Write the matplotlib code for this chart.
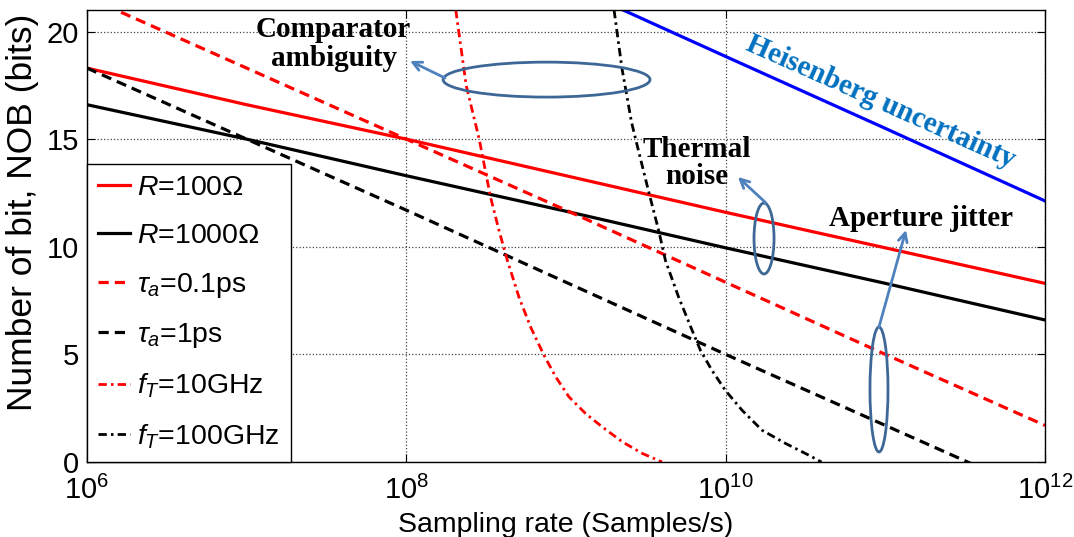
import numpy as np
import matplotlib
matplotlib.use("Agg")
import matplotlib.pyplot as plt
from matplotlib.patches import Ellipse

plt.rcParams['font.family'] = ['Liberation Sans', 'DejaVu Sans']
plt.rcParams['mathtext.fontset'] = 'custom'
plt.rcParams['mathtext.rm'] = 'Liberation Sans'
plt.rcParams['mathtext.it'] = 'Liberation Sans:italic'
plt.rcParams['mathtext.bf'] = 'Liberation Sans:bold'

# ---------------- data (sampling rate in Samples/s, NOB in bits) ----------------
decade_x = [1e6, 1e7, 1e8, 1e9, 1e10, 1e11, 1e12]
r100_y = [18.3, 16.6, 15.0, 13.3, 11.6, 9.95, 8.3]
r1000_y = [16.6, 15.0, 13.3, 11.65, 9.95, 8.3, 6.6]
tau01_y = [21.6, 18.3, 15.0, 11.7, 8.35, 5.0, 1.7]
tau1_y = [18.3, 15.0, 11.7, 8.35, 5.0, 1.7, -1.6]

ft10_x = [2.04e8, 2.37e8, 2.86e8, 3.37e8, 3.81e8, 4.30e8, 5.08e8, 6.01e8,
          7.29e8, 8.63e8, 1.045e9, 1.327e9, 1.687e9, 2.25e9, 3.0e9, 4.0e9]
ft10_y = [21.0, 17.5, 15.0, 12.3, 10.74, 9.35, 7.65, 6.26,
          4.95, 3.95, 3.02, 2.25, 1.63, 0.94, 0.40, 0.0]

ft100_x = [2.0e9, 2.24e9, 2.57e9, 2.75e9, 3.31e9, 3.81e9, 4.2e9, 5.08e9,
           6.17e9, 6.95e9, 8.2e9, 9.95e9, 1.265e10, 1.687e10, 2.36e10,
           3.31e10, 3.98e10]
ft100_y = [21.0, 18.3, 15.8, 14.9, 12.5, 10.74, 9.35, 7.65,
           6.11, 5.19, 4.26, 3.33, 2.41, 1.48, 0.87, 0.32, 0.0]

heis_x = [1e9, 1e10, 1e11, 1e12]
heis_y = [22.2, 18.84, 15.5, 12.13]

labels = [r'$\it{R}$=100Ω', r'$\it{R}$=1000Ω', r'$\tau_a$=0.1ps',
          r'$\tau_a$=1ps', r'$f_T$=10GHz', r'$f_T$=100GHz']

x_ticks = [1e6, 1e8, 1e10, 1e12]
y_ticks = [0, 5, 10, 15, 20]

# ---------------- figure ----------------
fig = plt.figure(figsize=(10.74, 5.37), dpi=100)
ax = fig.add_axes([87/1074, 75/537, 958/1074, 452/537])
ax.set_xscale('log')

lw = 2.3
dash = (3.2, 1.9)
dashdot = (3.0, 1.5, 0.9, 1.5)
h1, = ax.plot(decade_x, r100_y, color='#ff0000', lw=lw, label=labels[0])
h2, = ax.plot(decade_x, r1000_y, color='black', lw=lw, label=labels[1])
h3, = ax.plot(decade_x, tau01_y, color='#ff0000', lw=lw, ls=(0, dash), label=labels[2])
h4, = ax.plot(decade_x, tau1_y, color='black', lw=lw, ls=(0, dash), label=labels[3])
h5, = ax.plot(ft10_x, ft10_y, color='#ff0000', lw=2.0, ls=(0, dashdot), label=labels[4])
h6, = ax.plot(ft100_x, ft100_y, color='black', lw=2.0, ls=(0, dashdot), label=labels[5])
ax.plot(heis_x, heis_y, color='#0000ff', lw=lw)

ax.set_xlim(1e6, 1e12)
ax.set_ylim(0, 21)
ax.set_xticks(x_ticks)
ax.xaxis.set_minor_locator(matplotlib.ticker.NullLocator())
ax.set_yticks(y_ticks)
ax.tick_params(direction='in', top=True, right=True, length=6, width=0.8,
               labelsize=21)
ax.tick_params(axis='x', pad=10)
ax.tick_params(axis='y', pad=6)
ax.grid(True, which='major', ls=':', color='#444444', lw=0.9)
for s in ax.spines.values():
    s.set_linewidth(1.0)

ax.set_xlabel('Sampling rate (Samples/s)', fontsize=20.5, labelpad=5)
ax.set_ylabel('Number of bit, NOB (bits)', fontsize=25.5)
ax.yaxis.set_label_coords(-0.05, 0.553)

leg = ax.legend(handles=[h1, h2, h3, h4, h5, h6], loc='lower left',
                borderaxespad=0, fontsize=20.5, frameon=True, fancybox=False,
                framealpha=1, edgecolor='black', handlelength=1.1,
                handletextpad=0.25, labelspacing=0.76, borderpad=0.4)
leg.get_frame().set_linewidth(1.0)
leg.set_zorder(5)

# ---------------- annotations ----------------
serif = dict(family='Liberation Serif', weight='bold', fontsize=21)
ax.text(3.5e7, 19.4, 'Comparator\nambiguity', ha='center', va='center',
        linespacing=1.1, **serif)
ax.text(6.6e9, 13.9, 'Thermal\nnoise', ha='center', va='center',
        linespacing=1.0, **serif)
ax.text(1.68e11, 11.3, 'Aperture jitter', ha='center', va='center', **serif)
ax.text(9.3e10, 16.75, 'Heisenberg uncertainty', ha='center', va='center',
        rotation=-24, rotation_mode='anchor', color='#0070c0', **serif)

ell_col = '#3d6796'
arr_col = '#4f81bd'
for (cx, cy, w, h) in [(0.4797, 0.846, 0.216, 0.0774),
                       (0.7067, 0.4945, 0.0209, 0.157),
                       (0.8267, 0.1604, 0.0188, 0.2765)]:
    ax.add_patch(Ellipse((cx, cy), w, h, transform=ax.transAxes, fill=False,
                         edgecolor=ell_col, lw=2.0, zorder=6))

for (sx, sy, tx, ty) in [(0.3737, 0.8496, 0.3372, 0.8872),
                         (0.7088, 0.5730, 0.6795, 0.6305),
                         (0.8267, 0.2987, 0.8549, 0.5133)]:
    ax.annotate('', xy=(tx, ty), xytext=(sx, sy), xycoords='axes fraction',
                textcoords='axes fraction',
                arrowprops=dict(arrowstyle='->', color=arr_col, lw=2.0,
                                mutation_scale=16, shrinkA=0, shrinkB=0),
                zorder=6)

fig.savefig('out.png', dpi=100)
